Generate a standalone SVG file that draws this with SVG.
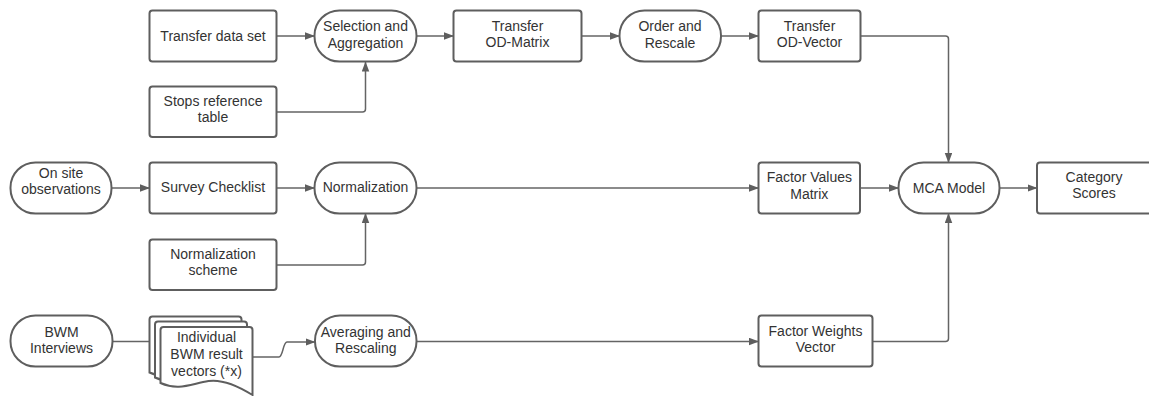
<svg xmlns="http://www.w3.org/2000/svg" width="1149" height="396" viewBox="0 0 1149 396">
  <defs>
    <style>
      .box { fill: #ffffff; stroke: #5e5e5e; stroke-width: 2; }
      .lbl { font-family: "Liberation Sans", Arial, sans-serif; font-size: 14px; fill: #333333; text-anchor: middle; }
      .edge { fill: none; stroke: #646464; stroke-width: 1.5; }
      .arrow { marker-end: url(#head); }
    </style>
    <marker id="head" markerUnits="userSpaceOnUse" markerWidth="11" markerHeight="8" refX="9.5" refY="3.75" orient="auto">
      <path d="M0,0 L10,3.75 L0,7.5 Z" fill="#5e5e5e"/>
    </marker>
    <!-- page outline with a wavy bottom edge, origin at top-left -->
    <path id="page" d="M0,3 Q0,0 3,0 H89 Q92,0 92,3 V68 C76,58 62,52 48,54 C30,57 18,64 0,56 Z"/>
  </defs>

  <rect width="1149" height="396" fill="#ffffff"/>

  <!-- connectors -->
  <g id="connectors">
    <path class="edge arrow" d="M277,36 H314.5"/>
    <path class="edge arrow" d="M277,112 H362.5 Q365.5,112 365.5,109 V62"/>
    <path class="edge arrow" d="M417,36 H453.5"/>
    <path class="edge arrow" d="M582,36 H619.5"/>
    <path class="edge arrow" d="M721,36 H758.5"/>
    <path class="edge arrow" d="M861,36 H945.5 Q948.5,36 948.5,39 V162.5"/>
    <path class="edge arrow" d="M111.5,188 H149.5"/>
    <path class="edge arrow" d="M277,188 H314.5"/>
    <path class="edge arrow" d="M416.5,188 H758.5"/>
    <path class="edge arrow" d="M860,188 H898.5"/>
    <path class="edge arrow" d="M999.5,188 H1037"/>
    <path class="edge arrow" d="M277,265 H362.5 Q365.5,265 365.5,262 V213.5"/>
    <path class="edge" d="M112.5,341.5 H149.5"/>
    <path class="edge arrow" d="M252,357 H279 C283,357 283,342 287,342 H315"/>
    <path class="edge arrow" d="M416.5,341.5 H758.5"/>
    <path class="edge arrow" d="M872.5,341.5 H945.5 Q948.5,341.5 948.5,338.5 V213.5"/>
  </g>

  <!-- row 1 -->
  <g id="transfer-data-set">
    <rect class="box" x="149.5" y="10.5" width="127" height="51" rx="3"/>
    <text class="lbl" x="213" y="40.5">Transfer data set</text>
  </g>
  <g id="selection-aggregation">
    <rect class="box" x="314.5" y="10.5" width="102" height="51" rx="25"/>
    <text class="lbl" x="365.5" y="31">Selection and</text>
    <text class="lbl" x="365.5" y="47.5">Aggregation</text>
  </g>
  <g id="transfer-od-matrix">
    <rect class="box" x="453.5" y="10.5" width="128" height="51" rx="3"/>
    <text class="lbl" x="517.5" y="30.5">Transfer</text>
    <text class="lbl" x="517.5" y="47">OD-Matrix</text>
  </g>
  <g id="order-rescale">
    <rect class="box" x="619.5" y="10.5" width="101.5" height="51" rx="25"/>
    <text class="lbl" x="670" y="31">Order and</text>
    <text class="lbl" x="670" y="47.5">Rescale</text>
  </g>
  <g id="transfer-od-vector">
    <rect class="box" x="758.5" y="10.5" width="102" height="51" rx="3"/>
    <text class="lbl" x="809.5" y="30.5">Transfer</text>
    <text class="lbl" x="809.5" y="47">OD-Vector</text>
  </g>
  <g id="stops-reference-table">
    <rect class="box" x="149.5" y="86.5" width="127" height="50.5" rx="3"/>
    <text class="lbl" x="213" y="105.5">Stops reference</text>
    <text class="lbl" x="213" y="122">table</text>
  </g>

  <!-- row 2 -->
  <g id="on-site-observations">
    <rect class="box" x="10.5" y="162.5" width="101" height="51" rx="25"/>
    <text class="lbl" x="61" y="177.5">On site</text>
    <text class="lbl" x="61" y="194">observations</text>
  </g>
  <g id="survey-checklist">
    <rect class="box" x="149.5" y="162.5" width="127" height="51" rx="3"/>
    <text class="lbl" x="213" y="192">Survey Checklist</text>
  </g>
  <g id="normalization">
    <rect class="box" x="314.5" y="162.5" width="102" height="51" rx="25"/>
    <text class="lbl" x="365.5" y="192">Normalization</text>
  </g>
  <g id="factor-values-matrix">
    <rect class="box" x="758.5" y="162.5" width="101.5" height="51" rx="3"/>
    <text class="lbl" x="809.3" y="182">Factor Values</text>
    <text class="lbl" x="809.3" y="198.5">Matrix</text>
  </g>
  <g id="mca-model">
    <rect class="box" x="898.5" y="162.5" width="101" height="51" rx="25"/>
    <text class="lbl" x="949" y="192.5">MCA Model</text>
  </g>
  <g id="category-scores">
    <rect class="box" x="1037" y="162.5" width="116" height="51" rx="3"/>
    <text class="lbl" x="1094" y="182">Category</text>
    <text class="lbl" x="1094" y="198">Scores</text>
  </g>
  <g id="normalization-scheme">
    <rect class="box" x="149.5" y="239.5" width="127" height="50.5" rx="3"/>
    <text class="lbl" x="213" y="258.5">Normalization</text>
    <text class="lbl" x="213" y="275">scheme</text>
  </g>

  <!-- row 3 -->
  <g id="bwm-interviews">
    <rect class="box" x="10.5" y="315.5" width="102" height="51" rx="25"/>
    <text class="lbl" x="61.5" y="336.5">BWM</text>
    <text class="lbl" x="61.5" y="353">Interviews</text>
  </g>
  <g id="bwm-result-vectors">
    <use href="#page" class="box" transform="translate(149.5,316.5)"/>
    <use href="#page" class="box" transform="translate(155,321.5)"/>
    <use href="#page" class="box" transform="translate(160.5,327)"/>
    <text class="lbl" x="206.5" y="342">Individual</text>
    <text class="lbl" x="206.5" y="359">BWM result</text>
    <text class="lbl" x="206.5" y="375.5">vectors (*x)</text>
  </g>
  <g id="averaging-rescaling">
    <rect class="box" x="315" y="315.5" width="101.5" height="51" rx="25"/>
    <text class="lbl" x="365.8" y="336.5">Averaging and</text>
    <text class="lbl" x="365.8" y="353">Rescaling</text>
  </g>
  <g id="factor-weights-vector">
    <rect class="box" x="758.5" y="315.5" width="114" height="51" rx="3"/>
    <text class="lbl" x="815.5" y="335.5">Factor Weights</text>
    <text class="lbl" x="815.5" y="352">Vector</text>
  </g>
</svg>
